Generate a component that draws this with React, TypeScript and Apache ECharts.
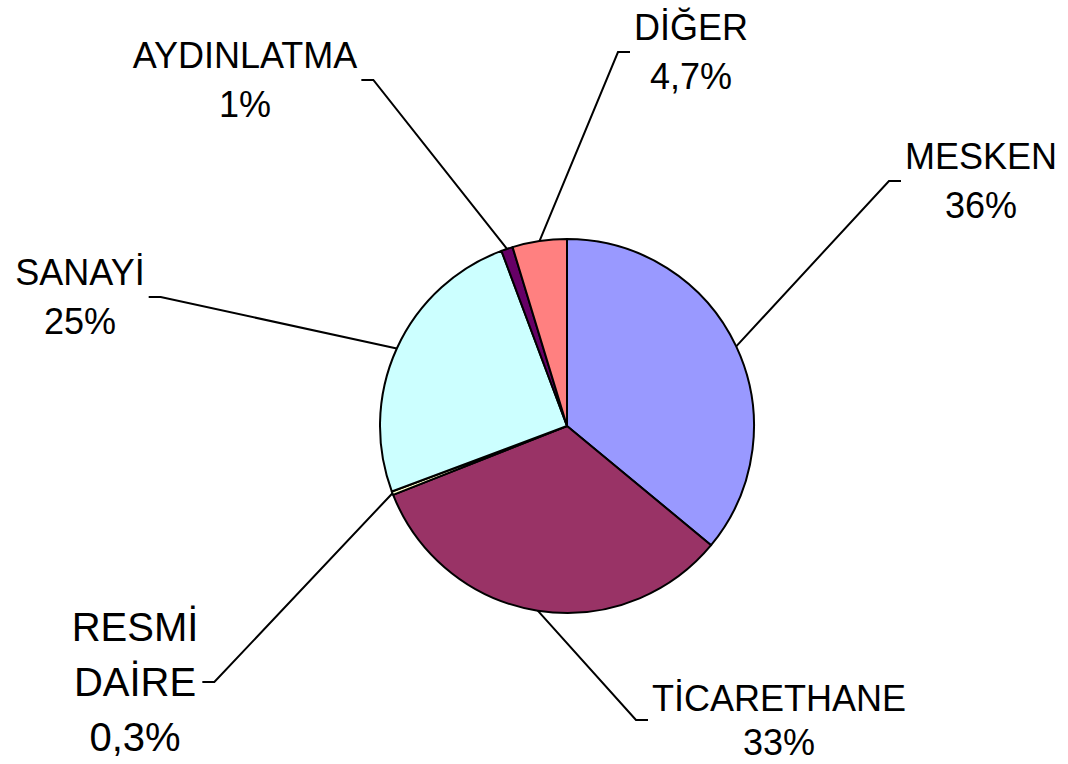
import React, { useEffect, useRef } from "react";
import * as echarts from "echarts";

const categories = ["MESKEN", "TİCARETHANE", "RESMİ DAİRE", "SANAYİ", "AYDINLATMA", "DİĞER"];
const labelNames = ["MESKEN", "TİCARETHANE", "RESMİ\nDAİRE", "SANAYİ", "AYDINLATMA", "DİĞER"];
const values = [36, 33, 0.3, 25, 1, 4.7];
const percentLabels = ["36%", "33%", "0,3%", "25%", "1%", "4,7%"];
const colors = ["#9999FF", "#993366", "#FFFFCC", "#CCFFFF", "#660066", "#FF8080"];

// label layout (text block centre, which side of the pie)
const labelPos = [
  { x: 981, y: 181, side: "right", size: 36, lh: 49 },
  { x: 779, y: 720, side: "right", size: 36, lh: 44 },
  { x: 135, y: 682, side: "left", size: 40, lh: 55 },
  { x: 80, y: 297, side: "left", size: 36, lh: 49 },
  { x: 245, y: 80, side: "left", size: 36, lh: 49 },
  { x: 691, y: 52, side: "right", size: 36, lh: 49 },
];

export default function App() {
  const ref = useRef<HTMLDivElement>(null);
  useEffect(() => {
    if (!ref.current) return;
    const chart = echarts.init(ref.current, undefined, { renderer: "svg" });
    const data = categories.map((name, i) => ({
      name,
      value: values[i],
      itemStyle: { color: colors[i] },
      label: { fontSize: labelPos[i].size, lineHeight: labelPos[i].lh },
    }));
    chart.setOption({
      animation: false,
      backgroundColor: "#ffffff",
      series: [
        {
          type: "pie",
          center: [567, 426],
          radius: 187,
          startAngle: 90,
          clockwise: true,
          avoidLabelOverlap: false,
          silent: true,
          emphasis: { disabled: true },
          itemStyle: { borderColor: "#000000", borderWidth: 2 },
          label: {
            show: true,
            position: "outside",
            color: "#000000",
            fontFamily: "'Liberation Sans', Arial, sans-serif",
            fontSize: 36,
            lineHeight: 49,
            align: "center",
            formatter: (p: any) => `${labelNames[p.dataIndex]}\n${percentLabels[p.dataIndex]}`,
          },
          labelLine: {
            show: true,
            length: 20,
            length2: 20,
            lineStyle: { color: "#000000", width: 2 },
          },
          labelLayout: (params: any) => {
            const i = params.dataIndex;
            const pos = labelPos[i];
            const w = params.labelRect.width;
            const pts = params.labelLinePoints;
            const edge = pts && pts[0] ? [pts[0][0], pts[0][1]] : [pos.x, pos.y];
            const tickEnd = pos.side === "left" ? pos.x + w / 2 + 4 : pos.x - w / 2 - 4;
            const corner = pos.side === "left" ? tickEnd + 12 : tickEnd - 12;
            return {
              x: pos.x,
              y: pos.y,
              align: "center",
              verticalAlign: "middle",
              labelLinePoints: [edge, [corner, pos.y], [tickEnd, pos.y]],
            };
          },
          data,
        },
      ],
    });
    return () => chart.dispose();
  }, []);
  return (
    <div
      ref={ref}
      style={{ position: "fixed", left: 0, top: 0, width: 1068, height: 764, background: "#fff" }}
    />
  );
}
